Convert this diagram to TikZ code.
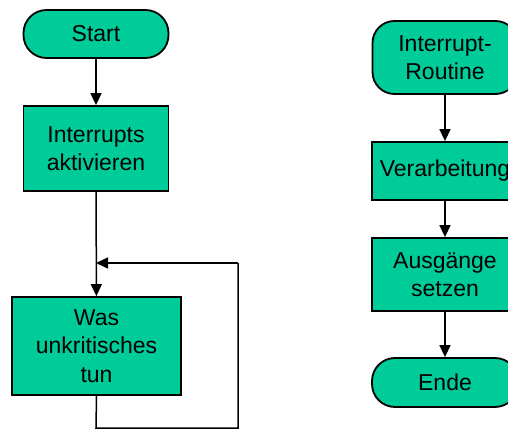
\documentclass[tikz,border=0pt]{standalone}
\usepackage{fontspec}
\setmainfont{Liberation Sans}
\usetikzlibrary{arrows.meta}
\definecolor{flowgreen}{RGB}{0,204,153}
\tikzset{
  flow/.style={draw=black, line width=1.8pt, fill=flowgreen, align=center,
    inner sep=0pt, font=\fontsize{23}{28.5}\selectfont},
  terminal/.style={flow, rounded corners=23pt},
  procbox/.style={flow},
  link/.style={line width=1.5pt, -{Triangle[width=11pt,length=12pt]}},
  plainlink/.style={line width=1.5pt}
}
\begin{document}
\begin{tikzpicture}[x=1pt,y=-1pt]
\useasboundingbox (0,0) rectangle (508,430);
\clip (0,0) rectangle (508,430);
% main program
\node[terminal, minimum width=145pt, minimum height=48pt] (start) at (96,34) {Start};
\node[procbox, minimum width=145pt, minimum height=85pt] (intact) at (96,148.5) {Interrupts\\aktivieren};
\node[procbox, minimum width=169pt, minimum height=98pt] (was) at (96.5,346) {Was\\unkritisches\\tun};
\coordinate (join) at (96,263);
\coordinate (lb) at (96,428);
\coordinate (rb) at (238,428);
\coordinate (rt) at (238,263);
\draw[link] (start) -- (intact);
\draw[link] (intact) -- (was);
\draw[plainlink] (was.south) -- (lb) -- (rb) -- (rt);
\draw[link] (rt) -- (join);
% interrupt routine
\node[terminal, rounded corners=22pt, minimum width=145pt, minimum height=73pt] (isr) at (445,57.5) {Interrupt-\\Routine};
\node[procbox, minimum width=146pt, minimum height=58pt] (proc) at (445,171) {Verarbeitung};
\node[procbox, minimum width=146pt, minimum height=73pt] (out) at (445,274.5) {Ausgänge\\setzen};
\node[terminal, minimum width=146pt, minimum height=49pt] (ende) at (445,382.5) {Ende};
\draw[link] (isr) -- (proc);
\draw[link] (proc) -- (out);
\draw[link] (out) -- (ende);
\end{tikzpicture}
\end{document}
